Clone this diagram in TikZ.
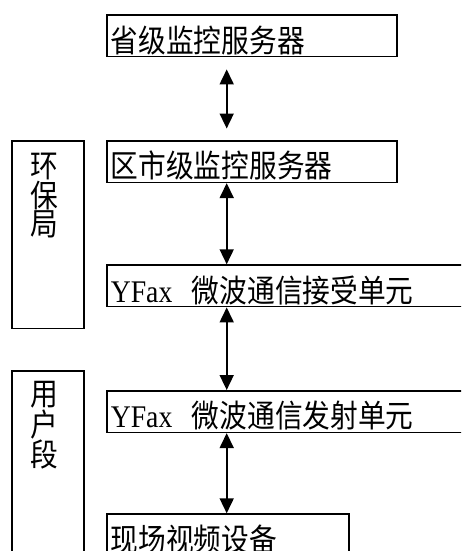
\documentclass[tikz,border=0pt]{standalone}
\usepackage{fontspec}
\setmainfont{Liberation Serif}[FakeStretch=0.88]
\newfontfamily\cjk{Noto Sans CJK SC}[FakeStretch=0.88]
\newfontfamily\latin{Liberation Serif}[FakeStretch=0.88]
\usetikzlibrary{arrows.meta,positioning}

\begin{document}
\begin{tikzpicture}[x=1pt,y=-1pt,%
		   unit/.style={draw,line width=1.6pt,anchor=north west,inner xsep=4pt,inner ysep=0pt,
		     text height=37pt,text depth=4.5pt,align=left,font=\cjk\fontsize{31.5}{27}\selectfont},
		   side/.style={draw,line width=1.6pt,anchor=north west,inner sep=0pt,minimum width=72pt},
		   sidetext/.style={inner sep=0pt,align=left,font=\cjk\fontsize{31.5}{26}\selectfont},
		   link/.style={{Triangle[width=14pt,length=15pt]}-{Triangle[width=14pt,length=15pt]},line width=1.7pt}]

	\useasboundingbox (0,0) rectangle (461,551);
	\clip (0,0) rectangle (461,551);

	    \foreach \name/\y/\w/\txt in {%
	       prov/14.3/282/省级监控服务器,%
	       city/140/282/区市级监控服务器,%
	       recv/264.3/372/{{\latin YFax\ }\hspace{9pt}微波通信接受单元},%
	       send/390/372/{{\latin YFax\ }\hspace{9pt}微波通信发射单元},%
	       site/513.3/234/现场视频设备%
	       } { \node[unit,text width=\w pt](\name) at (106,\y) {\txt}; }

	\node[side,minimum height=187.7pt](hbj) at (11,140) {};
	\node[side,minimum height=230pt](yhd) at (11,370) {};
	\node[sidetext,below right=13pt and 19pt of hbj.north west](hbjtxt) {环\\保\\局};
	\node[sidetext,below right=11.5pt and 19pt of yhd.north west](yhdtxt) {用\\户\\段};

	\coordinate (ax) at (226.7,0);% arrow column
	\draw[link,shorten <=12pt,shorten >=11.5pt] (prov.south -| ax) -- (city.north -| ax);
	\foreach \a/\b in {city/recv,recv/send,send/site}
	   \draw[link] (\a.south -| ax) -- (\b.north -| ax);

\end{tikzpicture}
\end{document}
